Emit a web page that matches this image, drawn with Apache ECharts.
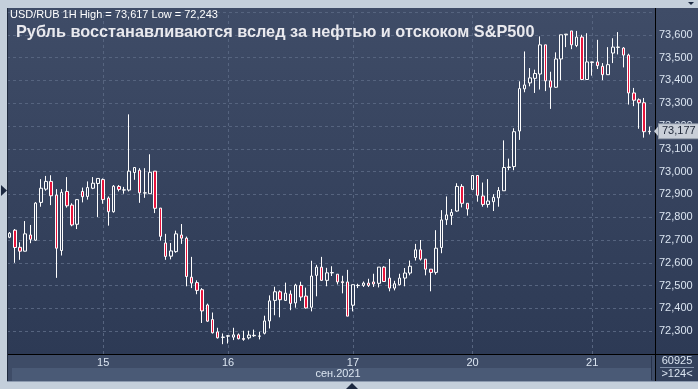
<!DOCTYPE html>
<html>
<head>
<meta charset="utf-8">
<script src="https://cdn.jsdelivr.net/npm/echarts@6/dist/echarts.min.js"></script>
<style>
  html, body { margin: 0; padding: 0; background: #c4cfdb; }
  #chart { width: 698px; height: 389px; }
</style>
</head>
<body>
<div id="chart"></div>
<script>
// Торговые дни на оси и число часовых свечей в каждом
const dayNames = ["14", "15", "16", "17", "20", "21"];
const dayFirstHour = [6, 0, 0, 0, 1, 0];
const dayBars = [18, 24, 24, 23, 23, 12];

// OHLC часовых свечей USD/RUB
const opens = [
  72.712, 72.743, 72.668, 72.651, 72.722, 72.699, 72.865, 72.923, 72.957, 72.897,
  72.654, 72.913, 72.853, 72.769, 72.913, 72.891, 72.927, 72.948, 72.965, 72.884,
  72.824, 72.935, 72.919, 72.919, 72.996, 73.006, 72.906, 72.903, 73.002, 72.840,
  72.687, 72.629, 72.649, 72.722, 72.708, 72.537, 72.513, 72.482, 72.415, 72.351,
  72.297, 72.273, 72.278, 72.274, 72.284, 72.268, 72.271, 72.280, 72.278, 72.291,
  72.345, 72.435, 72.473, 72.435, 72.463, 72.424, 72.501, 72.454, 72.405, 72.545,
  72.581, 72.523, 72.556, 72.550, 72.517, 72.516, 72.414, 72.500, 72.501, 72.511,
  72.516, 72.510, 72.581, 72.533, 72.489, 72.504, 72.533, 72.555, 72.623, 72.657,
  72.616, 72.572, 72.558, 72.667, 72.789, 72.807, 72.827, 72.935, 72.861, 72.922,
  72.983, 72.893, 72.856, 72.868, 72.885, 72.916, 73.018, 73.022, 73.178, 73.363,
  73.389, 73.409, 73.428, 73.556, 73.398, 73.370, 73.494, 73.600, 73.617, 73.553,
  73.590, 73.404, 73.479, 73.481, 73.462, 73.425, 73.520, 73.545, 73.542, 73.511,
  73.345, 73.315, 73.302, 73.175
];
const closes = [
  72.730, 72.667, 72.651, 72.727, 72.703, 72.862, 72.927, 72.957, 72.894, 72.664,
  72.909, 72.850, 72.766, 72.877, 72.890, 72.930, 72.949, 72.970, 72.877, 72.824,
  72.936, 72.922, 72.920, 73.002, 73.018, 72.907, 72.907, 72.997, 72.839, 72.716,
  72.628, 72.652, 72.727, 72.708, 72.540, 72.511, 72.479, 72.389, 72.344, 72.293,
  72.271, 72.274, 72.280, 72.284, 72.267, 72.264, 72.283, 72.282, 72.279, 72.345,
  72.433, 72.473, 72.438, 72.467, 72.422, 72.502, 72.450, 72.402, 72.542, 72.581,
  72.523, 72.556, 72.557, 72.516, 72.513, 72.366, 72.504, 72.501, 72.511, 72.501,
  72.507, 72.581, 72.518, 72.489, 72.508, 72.533, 72.555, 72.585, 72.657, 72.616,
  72.572, 72.558, 72.664, 72.788, 72.810, 72.821, 72.935, 72.861, 72.836, 72.983,
  72.896, 72.856, 72.871, 72.887, 72.917, 73.018, 73.020, 73.175, 73.364, 73.380,
  73.411, 73.430, 73.556, 73.398, 73.370, 73.494, 73.600, 73.603, 73.556, 73.590,
  73.404, 73.481, 73.481, 73.465, 73.425, 73.469, 73.546, 73.546, 73.511, 73.345,
  73.313, 73.302, 73.175, 73.177
];
const lows = [
  72.708, 72.600, 72.613, 72.650, 72.686, 72.696, 72.846, 72.916, 72.853, 72.534,
  72.632, 72.842, 72.760, 72.748, 72.865, 72.877, 72.923, 72.801, 72.859, 72.763,
  72.820, 72.913, 72.903, 72.913, 72.964, 72.863, 72.885, 72.903, 72.818, 72.697,
  72.613, 72.615, 72.644, 72.683, 72.497, 72.489, 72.462, 72.336, 72.341, 72.290,
  72.268, 72.243, 72.246, 72.261, 72.264, 72.258, 72.264, 72.275, 72.264, 72.286,
  72.312, 72.370, 72.361, 72.433, 72.392, 72.403, 72.433, 72.399, 72.387, 72.453,
  72.520, 72.497, 72.542, 72.505, 72.466, 72.366, 72.387, 72.489, 72.494, 72.494,
  72.494, 72.492, 72.516, 72.475, 72.479, 72.501, 72.497, 72.545, 72.610, 72.610,
  72.545, 72.475, 72.548, 72.642, 72.766, 72.766, 72.824, 72.843, 72.807, 72.922,
  72.868, 72.846, 72.842, 72.827, 72.846, 72.916, 73.006, 73.006, 73.139, 73.348,
  73.374, 73.345, 73.360, 73.353, 73.275, 73.367, 73.401, 73.546, 73.537, 73.546,
  73.401, 73.403, 73.421, 73.450, 73.401, 73.424, 73.476, 73.514, 73.457, 73.294,
  73.287, 73.188, 73.149, 73.163
];
const highs = [
  72.735, 72.748, 72.690, 72.783, 72.766, 72.866, 72.967, 72.981, 72.984, 72.923,
  72.923, 72.976, 72.861, 72.879, 72.930, 72.957, 72.976, 72.970, 72.970, 72.891,
  72.941, 72.941, 72.933, 73.251, 73.018, 73.015, 73.015, 73.076, 73.002, 72.840,
  72.727, 72.687, 72.741, 72.770, 72.715, 72.626, 72.523, 72.489, 72.421, 72.382,
  72.315, 72.290, 72.283, 72.315, 72.290, 72.302, 72.302, 72.307, 72.297, 72.368,
  72.457, 72.495, 72.479, 72.513, 72.479, 72.508, 72.517, 72.491, 72.609, 72.591,
  72.626, 72.578, 72.585, 72.550, 72.543, 72.569, 72.504, 72.508, 72.518, 72.530,
  72.552, 72.581, 72.585, 72.617, 72.521, 72.552, 72.577, 72.610, 72.683, 72.700,
  72.616, 72.572, 72.743, 72.831, 72.891, 72.836, 72.949, 72.945, 72.861, 72.983,
  72.983, 72.952, 72.967, 72.901, 72.932, 73.137, 73.057, 73.190, 73.396, 73.527,
  73.454, 73.447, 73.593, 73.556, 73.438, 73.523, 73.600, 73.603, 73.617, 73.617,
  73.600, 73.607, 73.482, 73.578, 73.476, 73.546, 73.585, 73.612, 73.546, 73.517,
  73.367, 73.321, 73.323, 73.197
];
const lastPrice = 73.177;
const barCountLabel = "60925";
const visibleLabel = ">124<";
const monthLabel = "сен.2021";
const headerText = "USD/RUB 1H High = 73,617 Low = 72,243";
const titleText = "Рубль восстанавливаются вслед за нефтью и отскоком S&P500";

// Категории: "день час", метка дня только на первой свече дня
const categories = [];
const dayStart = new Set();
dayNames.forEach((d, i) => {
  dayStart.add(categories.length);
  for (let h = 0; h < dayBars[i]; h++) {
    categories.push(d + " " + String(dayFirstHour[i] + h).padStart(2, "0") + ":00");
  }
});
const candles = opens.map((o, i) => [o, closes[i], lows[i], highs[i]]);
// вертикальные пунктиры — по первой свече каждого дня (кроме обрезанного 14-го)
const dayLines = [...dayStart].filter((i) => i > 0).map((i) => ({ xAxis: categories[i] }));

const fmt = (v) => v.toFixed(3).replace(".", ",");
const UI_FONT = "'Liberation Sans Narrow', 'Liberation Sans', Arial, sans-serif";
const AXIS_TEXT = "#dbe5f1";
const GRID_DASH = "#56647f";
const TAG_FILL = "#c9cfd8";

const chart = echarts.init(document.getElementById("chart"), null, { renderer: "canvas" });

chart.setOption({
  animation: false,
  backgroundColor: "#c4cfdb",
  grid: { left: 7, right: 46, top: 12, height: 342 },
  xAxis: {
    type: "category",
    data: categories,
    boundaryGap: true,
    axisLine: { show: false },
    axisTick: { show: false },
    axisLabel: {
      interval: (idx) => dayStart.has(idx) && idx > 0,
      formatter: (val) => val.split(" ")[0],
      color: AXIS_TEXT,
      fontFamily: UI_FONT,
      fontSize: 11,
      margin: 3,
    },
    splitLine: { show: false },
  },
  yAxis: {
    type: "value",
    position: "right",
    min: 72.2,
    max: 73.7,
    interval: 0.1,
    offset: 3,
    axisLine: { show: false },
    axisTick: { show: false },
    axisLabel: {
      showMinLabel: false,
      showMaxLabel: false,
      formatter: fmt,
      color: AXIS_TEXT,
      fontFamily: UI_FONT,
      fontSize: 11,
      margin: 4,
    },
    splitLine: {
      show: true,
      lineStyle: { color: GRID_DASH, type: [3, 3], width: 1 },
    },
  },
  series: [
    {
      type: "line",
      data: [],
      z: 1,
      silent: true,
      markLine: {
        silent: true,
        symbol: ["none", "none"],
        label: { show: false },
        lineStyle: { color: GRID_DASH, type: [3, 3], width: 1 },
        data: dayLines,
      },
    },
    {
      type: "candlestick",
      data: candles,
      barWidth: 3,
      itemStyle: {
        color: "#36435e",
        color0: "#e8143c",
        borderColor: "#ffffff",
        borderColor0: "#ffffff",
        borderWidth: 1,
      },
      z: 5,
    },
  ],
  graphic: [
    {
      type: "rect",
      id: "bg",
      z: -10,
      silent: true,
      shape: { x: 8, y: 8, width: 690, height: 346 },
      style: {
        fill: new echarts.graphic.LinearGradient(0, 0, 0, 1, [
          { offset: 0, color: "#3f4c67" },
          { offset: 1, color: "#2d3a55" },
        ]),
      },
    },
    { type: "rect", id: "axisBand", z: -9, silent: true, shape: { x: 8, y: 354, width: 647, height: 27 }, style: { fill: "#3e4c67" } },
    { type: "rect", id: "monthBand", z: -8, silent: true, shape: { x: 12, y: 368, width: 639, height: 13 }, style: { fill: "#4a5a76" } },
    { type: "rect", id: "cornerBox", z: -9, silent: true, shape: { x: 655, y: 354, width: 43, height: 27 }, style: { fill: "#33415c" } },
    { type: "line", id: "sep1", z: 10, silent: true, shape: { x1: 651.5, y1: 356, x2: 651.5, y2: 380 }, style: { stroke: "#27324a", lineWidth: 1 } },
    { type: "line", id: "xLine", z: 10, silent: true, shape: { x1: 8, y1: 354.5, x2: 698, y2: 354.5 }, style: { stroke: "#000000", lineWidth: 1 } },
    { type: "line", id: "yLine", z: 10, silent: true, shape: { x1: 655.5, y1: 8, x2: 655.5, y2: 381 }, style: { stroke: "#000000", lineWidth: 1 } },
    { type: "line", id: "sep2", z: 10, silent: true, shape: { x1: 660, y1: 367.5, x2: 694, y2: 367.5 }, style: { stroke: "#7f8ea6", lineWidth: 1 } },
    { type: "rect", id: "leftEdge", z: 10, silent: true, shape: { x: 7, y: 8, width: 1, height: 373 }, style: { fill: "#1f2a3e" } },
    { type: "rect", id: "bottomEdge", z: 10, silent: true, shape: { x: 7, y: 381, width: 691, height: 1 }, style: { fill: "#8d9bb0" } },
    {
      type: "text", id: "header", z: 20, silent: true, x: 10, y: 9,
      style: { text: headerText, fill: "#ffffff", font: "11px " + UI_FONT },
    },
    {
      type: "text", id: "title", z: 20, silent: true, x: 16, y: 25,
      style: { text: titleText, fill: "#e9e9ee", font: "bold 16.3px 'Liberation Sans', Arial, sans-serif" },
    },
    {
      type: "text", id: "month", z: 20, silent: true, x: 338, y: 374,
      style: { text: monthLabel, fill: AXIS_TEXT, font: "11px " + UI_FONT, align: "center", verticalAlign: "middle" },
    },
    {
      type: "text", id: "count", z: 20, silent: true, x: 677, y: 361,
      style: { text: barCountLabel, fill: AXIS_TEXT, font: "11px " + UI_FONT, align: "center", verticalAlign: "middle" },
    },
    {
      type: "text", id: "visible", z: 20, silent: true, x: 677, y: 374,
      style: { text: visibleLabel, fill: AXIS_TEXT, font: "11px " + UI_FONT, align: "center", verticalAlign: "middle" },
    },
    { type: "polygon", id: "triLeft", z: 20, silent: true, shape: { points: [[1, 185], [7, 190.5], [1, 196]] }, style: { fill: "#1b2840" } },
    { type: "polygon", id: "triBottom", z: 20, silent: true, shape: { points: [[346, 389], [352, 383], [358, 389]] }, style: { fill: "#1b2840" } },
    { type: "polygon", id: "triTop", z: 20, silent: true, shape: { points: [[688, 2], [694, 2], [691, 5]] }, style: { fill: "#1b2840" } },
  ],
});

// Ценовая метка последней цены, привязанная к шкале
const tagY = chart.convertToPixel({ yAxisIndex: 0 }, lastPrice);
chart.setOption({
  graphic: {
    elements: [
      {
        type: "polygon", id: "tagArrow", z: 21, silent: true,
        shape: { points: [[654, tagY], [660, tagY - 7], [660, tagY + 7]] },
        style: { fill: TAG_FILL },
      },
      {
        type: "text", id: "tagText", z: 22, silent: true, x: 659, y: tagY,
        style: {
          text: fmt(lastPrice),
          fill: "#1d2637",
          font: "11px " + UI_FONT,
          verticalAlign: "middle",
          backgroundColor: TAG_FILL,
          borderColor: "#8d97a6",
          borderWidth: 1,
          padding: [2, 3, 1, 3],
        },
      },
    ],
  },
});
</script>
</body>
</html>
